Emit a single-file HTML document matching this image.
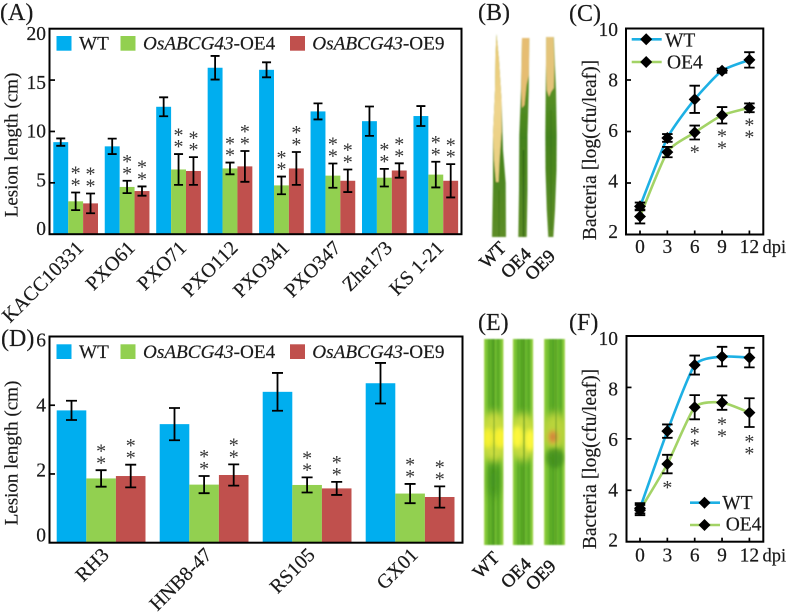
<!DOCTYPE html>
<html>
<head>
<meta charset="utf-8">
<title>Lesion length and bacterial growth figure</title>
<style>
html,body{margin:0;padding:0;background:#fff;width:787px;height:613px;overflow:hidden}
svg{display:block}
text{font-family:"Liberation Serif",serif;fill:#1a1a1a;stroke:#1a1a1a;stroke-width:0.18}
</style>
</head>
<body>
<svg id="fig" xmlns="http://www.w3.org/2000/svg" width="787" height="613" viewBox="0 0 787 613">
  <defs>
    <filter id="soft" x="-20%" y="-20%" width="140%" height="140%"><feGaussianBlur stdDeviation="0.7"/></filter>
    <filter id="soft4" x="-60%" y="-60%" width="220%" height="220%"><feGaussianBlur stdDeviation="4"/></filter>
    <filter id="soft2" x="-60%" y="-60%" width="220%" height="220%"><feGaussianBlur stdDeviation="2.2"/></filter>
    <linearGradient id="leafGreen" x1="0" y1="0" x2="0" y2="1">
      <stop offset="0" stop-color="#6f9f30"/><stop offset="0.5" stop-color="#43821a"/><stop offset="1" stop-color="#5c8c26"/>
    </linearGradient>
    <linearGradient id="lesionA" x1="0" y1="0" x2="0" y2="1">
      <stop offset="0" stop-color="#e6c770"/><stop offset="0.5" stop-color="#efd48c"/><stop offset="1" stop-color="#e8cf80"/>
    </linearGradient>
    <linearGradient id="eLeaf" x1="0" y1="0" x2="1" y2="0">
      <stop offset="0" stop-color="#b0dc58"/><stop offset="0.1" stop-color="#7cc434"/><stop offset="0.3" stop-color="#69b82c"/>
      <stop offset="0.45" stop-color="#4f9f22"/><stop offset="0.55" stop-color="#72bd30"/><stop offset="0.75" stop-color="#5fb02a"/><stop offset="0.9" stop-color="#7cc434"/><stop offset="1" stop-color="#b0dc58"/>
    </linearGradient>
    <clipPath id="clipE1"><rect x="484" y="339" width="19.5" height="206"/></clipPath>
    <clipPath id="clipE2"><rect x="512.7" y="339" width="20.6" height="206"/></clipPath>
    <clipPath id="clipE3"><rect x="544" y="339" width="21" height="206"/></clipPath>
  </defs>

  <g id="panel-b-leaves" filter="url(#soft)">
    <path d="M496.5 34 L499 60 L501.5 100 L503 150 L505.7 183 L506 237 L492 237 L493 183 L493 135 L495 90 L495.5 55 Z" fill="url(#leafGreen)"/>
    <path d="M496.5 34 L499 60 L501.5 100 L501.5 132 L499.5 160 L498.5 182 L496 182 L494 160 L493 135 L495 90 L495.5 55 Z" fill="url(#lesionA)"/>
    <path d="M499 190V237" stroke="#2f6a12" stroke-width="1" opacity=".5"/>
    <path d="M522 38 L529.3 38 L528.8 90 L527.5 135 L527.5 190 L526.7 237 L518.3 237 L519 190 L519.3 135 L521 90 Z" fill="url(#leafGreen)"/>
    <path d="M522 38 L529.3 38 L528.8 75 L526.5 85 L524.5 105 L522 108 L521.3 85 Z" fill="#e6bd72"/>
    <path d="M523.5 150V237" stroke="#1f4f0a" stroke-width="1.4" opacity=".6"/>
    <path d="M546.2 37 L553.8 37 L556 90 L556.7 135 L556.5 170 L555 210 L553.3 237 L548.3 237 L546.8 210 L545.5 170 L545.3 135 L545.7 90 Z" fill="url(#leafGreen)"/>
    <path d="M546.2 37 L553.5 37 L554.3 65 L553.8 88 L551 92 L549 97 L546.8 90 L546 65 Z" fill="#e4c47a"/>
    <path d="M551 110V230" stroke="#2f6a12" stroke-width="1" opacity=".45"/>
  </g>

  <g id="panel-e-leaves" filter="url(#soft)">
    <g clip-path="url(#clipE1)">
      <rect x="484" y="339" width="19.5" height="206" fill="url(#eLeaf)"/>
      <path d="M489 339V545M498 339V545" stroke="#4a9a20" stroke-width="1.4" opacity=".55"/>
      <ellipse cx="494" cy="437" rx="16" ry="26" fill="#c9dc3e" filter="url(#soft4)"/>
      <ellipse cx="488" cy="438" rx="4.5" ry="10" fill="#f8f22e" filter="url(#soft2)"/>
      <ellipse cx="500" cy="438" rx="6.5" ry="10" fill="#f8f230" filter="url(#soft2)"/>
      <ellipse cx="494" cy="480" rx="6" ry="18" fill="#3c8f1e" opacity=".7" filter="url(#soft4)"/>
      <path d="M494 339V545" stroke="#3a7f1a" stroke-width="1" opacity=".6"/>
    </g>
    <g clip-path="url(#clipE2)">
      <rect x="512.7" y="339" width="20.6" height="206" fill="url(#eLeaf)"/>
      <path d="M518 339V545M529 339V545" stroke="#4a9a20" stroke-width="1.4" opacity=".55"/>
      <ellipse cx="523" cy="437" rx="17" ry="24" fill="#c6dc3c" filter="url(#soft4)"/>
      <ellipse cx="517.5" cy="437" rx="5.5" ry="11" fill="#fdf73c" filter="url(#soft2)"/>
      <ellipse cx="530" cy="440" rx="5.5" ry="11" fill="#fdf73c" filter="url(#soft2)"/>
      <path d="M524 339V545" stroke="#3a7f1a" stroke-width="1.2" opacity=".7"/>
    </g>
    <g clip-path="url(#clipE3)">
      <rect x="544" y="339" width="21" height="206" fill="url(#eLeaf)"/>
      <path d="M550 339V545M561 339V545" stroke="#4a9a20" stroke-width="1.4" opacity=".55"/>
      <ellipse cx="555" cy="432" rx="14" ry="20" fill="#b9d43a" filter="url(#soft4)"/>
      <ellipse cx="553" cy="437" rx="5" ry="7" fill="#d9a53a" filter="url(#soft2)"/>
      <ellipse cx="553" cy="437" rx="2" ry="4" fill="#c9653a" filter="url(#soft2)" opacity=".8"/>
      <ellipse cx="555" cy="458" rx="9" ry="10" fill="#3c8a1e" opacity=".7" filter="url(#soft2)"/>
      <path d="M556 339V545" stroke="#3a7f1a" stroke-width="1" opacity=".6"/>
    </g>
  </g>

  <g>
    <text x="0" y="20" font-size="24">(A)</text>
    <text x="478" y="20" font-size="24">(B)</text>
    <text x="569" y="21" font-size="24">(C)</text>
    <text x="1" y="346" font-size="24">(D)</text>
    <text x="478" y="330" font-size="24">(E)</text>
    <text x="569" y="330" font-size="24">(F)</text>
  </g>

  <g font-size="18.5" text-anchor="middle" style="stroke-width:0.45">
    <text transform="translate(492.7,255) rotate(-45)" y="6" style="stroke-width:0.45">WT</text>
    <text transform="translate(516,263) rotate(-45)" y="6" style="stroke-width:0.45">OE4</text>
    <text transform="translate(540,265) rotate(-45)" y="6" style="stroke-width:0.45">OE9</text>
    <text transform="translate(486,565) rotate(-45)" y="6" style="stroke-width:0.45">WT</text>
    <text transform="translate(516,573) rotate(-45)" y="6" style="stroke-width:0.45">OE4</text>
    <text transform="translate(540.7,575) rotate(-45)" y="6" style="stroke-width:0.45">OE9</text>
  </g>
</svg>
<script>
// Panel A data
const aCategories = ['KACC10331','PXO61','PXO71','PXO112','PXO341','PXO347','Zhe173','KS 1-21'];
const aWT = [8.96,8.55,12.4,16.2,16.0,11.95,11.0,11.5];
const aOE4 = [3.2,4.6,6.3,6.4,4.75,5.7,5.5,5.8];
const aOE9 = [3.0,4.2,6.15,6.6,6.4,5.2,6.2,5.2];
const aErrWT = [0.36,0.75,0.92,1.15,0.73,0.78,1.43,0.97];
const aErrOE4 = [0.86,0.6,1.5,0.57,0.86,1.18,0.86,1.25];
const aErrOE9 = [0.96,0.45,1.35,1.5,1.6,1.1,0.7,1.62];
const aTicks = [0,5,10,15,20];

// Panel D data
const dCategories = ['RH3','HNB8-47','RS105','GX01'];
const dWT = [3.85,3.45,4.39,4.64];
const dOE4 = [1.87,1.69,1.68,1.43];
const dOE9 = [1.94,1.97,1.58,1.33];
const dErrWT = [0.28,0.47,0.55,0.59];
const dErrOE4 = [0.24,0.25,0.22,0.28];
const dErrOE9 = [0.33,0.31,0.19,0.31];
const dTicks = [0,2,4,6];

// Panel C data
const cDays = [0,3,6,9,12];
const cWT = [3.09,5.75,7.25,8.36,8.78];
const cOE4 = [2.7,5.2,5.96,6.63,6.92];
const cErrWT = [0.15,0.15,0.53,0.08,0.3];
const cErrOE4 = [0.27,0.2,0.27,0.32,0.17];
const cStars = [0,0,1,2,2];

// Panel F data
const fDays = [0,3,6,9,12];
const fWT = [3.3,6.3,8.87,9.2,9.16];
const fOE4 = [3.23,5.02,7.23,7.41,7.02];
const fErrWT = [0.2,0.26,0.37,0.38,0.38];
const fErrOE4 = [0.2,0.36,0.47,0.28,0.56];
const fStars = [0,1,2,2,2];

const lineTicks = [2,4,6,8,10];

const NS = 'http://www.w3.org/2000/svg';
const fig = document.getElementById('fig');
const BLUE = '#00aeef', GREEN = '#92d050', RED = '#c0504d';
const LBLUE = '#1db0e4', LGREEN = '#a3d366';

function make(tag, parent, attrs) {
  const el = document.createElementNS(NS, tag);
  for (const k in attrs) el.setAttribute(k, attrs[k]);
  parent.appendChild(el);
  return el;
}
function label(parent, x, y, str, size, anchor, name) {
  const t = make('text', parent, {x: x, y: y, 'font-size': size, 'text-anchor': anchor || 'start'});
  t.textContent = str;
  
  
  return t;
}
function star(parent, cx, cy) {
  const size = 20;
  const t = make('text', parent, {x: cx, y: cy - 1 + size * 0.47, 'font-size': size, 'text-anchor': 'middle'});
  t.style.fill = '#333';
  t.style.stroke = 'none';
  t.textContent = '*';
  
  
}
function errorBar(parent, x, y0, y1, cap) {
  const g = make('g', parent, {stroke: '#000', 'stroke-width': 1.8, fill: 'none'});
  
  
  make('path', g, {d: 'M' + x + ' ' + y0 + 'V' + y1 + 'M' + (x - cap / 2) + ' ' + y0 + 'H' + (x + cap / 2) + 'M' + (x - cap / 2) + ' ' + y1 + 'H' + (x + cap / 2)});
}
function frame(parent, L, T, R, B) {
  const r = make('rect', parent, {x: L, y: T, width: R - L, height: B - T, fill: 'none', stroke: '#000', 'stroke-width': 2});
  
  
}
function italicLegend(parent, x, y, suffix) {
  const t = make('text', parent, {x: x, y: y, 'font-size': 19.2});
  
  
  const i = make('tspan', t, {'font-style': 'italic'});
  i.textContent = 'OsABCG43';
  const s = make('tspan', t, {});
  s.textContent = '-' + suffix;
}

function barPanel(o) {
  const g = make('g', fig, {});
  
  
  const yScale = v => o.B - (v / o.max) * (o.B - o.T);
  const xScale = i => o.x0 + i * o.step;
  const seriesList = [
    {vals: o.wt, errs: o.ew, color: BLUE, stars: false},
    {vals: o.oe4, errs: o.e4, color: GREEN, stars: true},
    {vals: o.oe9, errs: o.e9, color: RED, stars: true}
  ];
  seriesList.forEach((s, si) => {
    s.vals.forEach((v, i) => {
      const x = xScale(i) + si * o.bw;
      const r = make('rect', g, {x: x, y: yScale(v), width: o.bw, height: o.B - yScale(v), fill: s.color});
      
      
    });
  });
  seriesList.forEach((s, si) => {
    s.vals.forEach((v, i) => {
      const x = xScale(i) + si * o.bw + o.bw / 2;
      const top = yScale(v + s.errs[i]);
      errorBar(g, x, top, yScale(v - s.errs[i]), o.cap);
      if (s.stars) {
        star(g, x, top - 9.3);
        star(g, x, top - 21.2);
      }
    });
  });
  o.ticks.forEach(t => {
    const y = yScale(t);
    if (t !== 0 && t !== o.max) {
      const tk = make('path', g, {d: 'M' + o.L + ' ' + y + 'H' + (o.L + 5.5), stroke: '#000', 'stroke-width': 1.7});
      
      
    }
    label(g, 46, o.lab0 - (t / o.max) * o.labSpan, String(t), 19.5, 'end', 'y-tick-label');
  });
  frame(g, o.L, o.T, o.R, o.B);
  const title = label(g, 0, 0, 'Lesion length (cm)', 19, 'middle', 'y-axis-title');
  title.setAttribute('transform', 'translate(17.5,' + o.titleY + ') rotate(-90)');
  o.cats.forEach((c, i) => {
    const cx = xScale(i) + 1.5 * o.bw;
    const t = label(g, 0, 0, c, 20, 'end', 'x-category-label');
    t.setAttribute('transform', 'translate(' + (cx + o.labDx) + ',' + o.labY + ') rotate(-45)');
  });
  // legend
  const ly = o.legendY;
  [[56.5, BLUE], [120.5, GREEN], [290, RED]].forEach(p => {
    const r = make('rect', g, {x: p[0], y: ly, width: 15, height: 14.7, fill: p[1]});
    
    
  });
  label(g, 79, ly + 13.5, 'WT', 19.2, 'start', 'legend-label');
  italicLegend(g, 143, ly + 13.5, 'OE4');
  italicLegend(g, 312.3, ly + 13.5, 'OE9');
}

function smooth(pts) {
  let d = 'M' + pts[0][0] + ' ' + pts[0][1];
  for (let i = 0; i < pts.length - 1; i++) {
    const p0 = pts[Math.max(i - 1, 0)], p1 = pts[i], p2 = pts[i + 1], p3 = pts[Math.min(i + 2, pts.length - 1)];
    const c1x = p1[0] + (p2[0] - p0[0]) / 10, c1y = p1[1] + (p2[1] - p0[1]) / 10;
    const c2x = p2[0] - (p3[0] - p1[0]) / 10, c2y = p2[1] - (p3[1] - p1[1]) / 10;
    d += 'C' + c1x + ' ' + c1y + ' ' + c2x + ' ' + c2y + ' ' + p2[0] + ' ' + p2[1];
  }
  return d;
}
function diamond(parent, x, y) {
  const r = 6;
  const p = make('path', parent, {d: 'M' + (x - r) + ' ' + y + 'L' + x + ' ' + (y - r) + 'L' + (x + r) + ' ' + y + 'L' + x + ' ' + (y + r) + 'Z', fill: '#000'});
  
  
}

function linePanel(o) {
  const g = make('g', fig, {});
  
  
  const yScale = v => o.B - ((v - 2) / 8) * (o.B - o.T);
  const xScale = d => o.x0 + (d / 3) * o.dx;
  [[o.oe4, LGREEN, 'oe4-line'], [o.wt, LBLUE, 'wt-line']].forEach(s => {
    const pts = s[0].map((v, i) => [xScale(o.days[i]), yScale(v)]);
    const p = make('path', g, {d: smooth(pts), fill: 'none', stroke: s[1], 'stroke-width': 2.6});
    
    
  });
  [[o.wt, o.ew], [o.oe4, o.e4]].forEach(s => {
    s[0].forEach((v, i) => {
      const x = xScale(o.days[i]);
      errorBar(g, x, yScale(v + s[1][i]), yScale(v - s[1][i]), 10.5);
      diamond(g, x, yScale(v));
    });
  });
  o.stars.forEach((n, i) => {
    const x = xScale(o.days[i]);
    const bottom = yScale(o.oe4[i] - o.e4[i]);
    for (let k = 0; k < n; k++) star(g, x, bottom + o.starGap + k * 12);
  });
  lineTicks.forEach(t => {
    const y = yScale(t);
    if (t !== 2 && t !== 10) {
      const tk = make('path', g, {d: 'M' + o.L + ' ' + y + 'H' + (o.L + 5), stroke: '#000', 'stroke-width': 1.7});
      
      
    }
    label(g, 618, o.lab2 - (t - 2) * o.labStep, String(t), 19.5, 'end', 'y-tick-label');
  });
  o.days.forEach(d => {
    const x = xScale(d);
    const tk = make('path', g, {d: 'M' + x + ' ' + o.B + 'V' + (o.B - 4), stroke: '#000', 'stroke-width': 1.7});
    
    
    label(g, x, o.xLabY, String(d), 19.5, 'middle', 'x-tick-label');
  });
  label(g, 762.5, o.xLabY, 'dpi', 18.5, 'start', 'x-axis-unit');
  frame(g, o.L, o.T, o.R, o.B);
  const title = label(g, 0, 0, 'Bacteria [log(cfu/leaf)]', 19.5, 'middle', 'y-axis-title');
  title.setAttribute('transform', 'translate(596,' + o.titleY + ') rotate(-90)');
  o.legend.forEach(l => {
    const ln = make('path', g, {d: 'M' + l.x0 + ' ' + l.y + 'H' + (l.x0 + 30), stroke: l.c, 'stroke-width': 2.6});
    
    
    diamond(g, l.x0 + 14.5, l.y);
    label(g, l.tx, l.ty, l.t, 19.5, 'start', 'legend-label');
  });
}

barPanel({name: 'panel-a-bar-chart', cats: aCategories, wt: aWT, oe4: aOE4, oe9: aOE9, ew: aErrWT, e4: aErrOE4, e9: aErrOE9, ticks: aTicks,
  L: 49.5, R: 461.5, T: 28.7, B: 234.2, max: 20, x0: 53.3, step: 51.45, bw: 14.9, cap: 9,
  lab0: 235, labSpan: 195, titleY: 145, labDx: 9, labY: 249, legendY: 36});
barPanel({name: 'panel-d-bar-chart', cats: dCategories, wt: dWT, oe4: dOE4, oe9: dOE9, ew: dErrWT, e4: dErrOE4, e9: dErrOE9, ticks: dTicks,
  L: 49.5, R: 462.5, T: 336.5, B: 542.7, max: 6, x0: 56.7, step: 103, bw: 29.6, cap: 11,
  lab0: 541.7, labSpan: 195, titleY: 453, labDx: 9, labY: 556, legendY: 344.3});
linePanel({name: 'panel-c-line-chart', days: cDays, wt: cWT, oe4: cOE4, ew: cErrWT, e4: cErrOE4, stars: cStars,
  L: 626, R: 763.3, T: 28.5, B: 234.5, x0: 640, dx: 27.35, starGap: 10.8,
  lab2: 238, labStep: 25.25, xLabY: 253, titleY: 150,
  legend: [
    {x0: 631.7, y: 39.3, c: LBLUE, t: 'WT', tx: 665, ty: 46.7},
    {x0: 631.7, y: 62, c: LGREEN, t: 'OE4', tx: 667, ty: 68.3}
  ]});
linePanel({name: 'panel-f-line-chart', days: fDays, wt: fWT, oe4: fOE4, ew: fErrWT, e4: fErrOE4, stars: fStars,
  L: 626.5, R: 763.3, T: 336, B: 541.7, x0: 640, dx: 27.35, starGap: 12.5,
  lab2: 546.7, labStep: 25.2, xLabY: 561.7, titleY: 459,
  legend: [
    {x0: 690, y: 502.7, c: LBLUE, t: 'WT', tx: 722.3, ty: 509},
    {x0: 690, y: 525, c: LGREEN, t: 'OE4', tx: 725.7, ty: 530.7}
  ]});
</script>
</body>
</html>
